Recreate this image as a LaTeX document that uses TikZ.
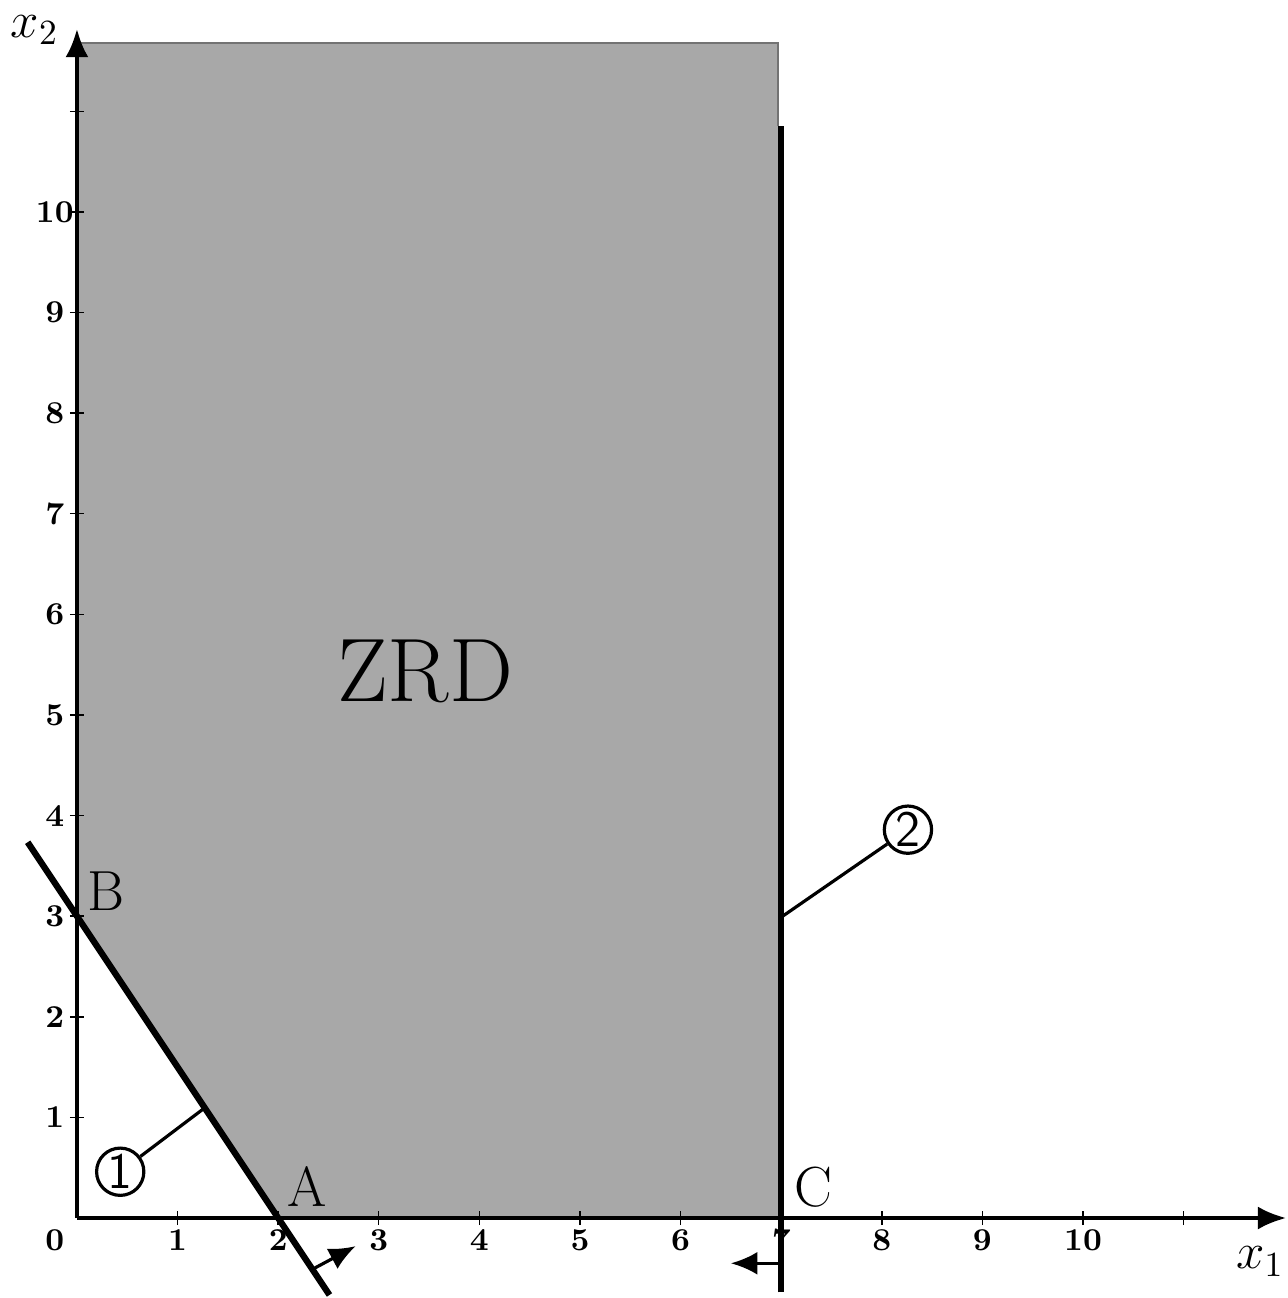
\documentclass[tikz,border=0pt]{standalone}
\usepackage{amsmath,amssymb}
\usepackage{tikz}
\usetikzlibrary{arrows.meta,positioning,calc}

\begin{document}
\begin{tikzpicture}[
    axis/.style={-{Latex[length=8pt,width=6.5pt]}, line width=1.1pt},
    bound/.style={line width=1.8pt},
    lead/.style={line width=0.9pt},
    dirarr/.style={-{Latex[length=7.5pt,width=6.5pt]}, line width=0.9pt},
    ticklab/.style={font=\small\bfseries},
    vertex/.style={font=\fontsize{16}{19}\selectfont},
    num/.style={draw, circle, line width=0.9pt, minimum size=0.47cm, inner sep=0pt, font=\sffamily\Large}
]
\useasboundingbox (-0.765,-0.795) rectangle (12.03,12.107);

% feasible region
\fill[black!34] (0,3) -- (2,0) -- (6.97,0) -- (6.97,11.68) -- (0,11.68) -- cycle;
\draw[black!55, line width=0.4pt] (0,11.68) -- (6.97,11.68) -- (6.97,10.85);

% axes
\draw[axis] (0,0) -- (12.02,0);
\draw[axis] (0,0) -- (0,11.82);
\foreach \i in {1,...,11} {
    \draw[line width=0.4pt] (\i,-0.07) -- (\i,0.07);
    \draw[line width=0.4pt] (-0.07,\i) -- (0.07,\i);
}
\foreach \i in {1,...,10} {
    \node[ticklab] (tx\i) at (\i,-0.22) {\i};
    \node[ticklab] (ty\i) at (-0.22,\i) {\i};
}
\node[ticklab] (t0) at (-0.22,-0.22) {0};
\node[font=\Large, inner sep=1pt] (xlab) at (11.76,-0.43) {$x_1$};
\node[font=\Large, inner sep=1pt] (ylab) at (-0.42,11.81) {$x_2$};

% constraint lines
\draw[bound] (-0.49,3.735) -- (2.51,-0.765);
\draw[bound] (7,-0.74) -- (7,10.85);

% labels
\node[vertex] (A) at (2.29,0.31) {A};
\node[vertex] (B) at (0.29,3.25) {B};
\node[vertex] (C) at (7.32,0.31) {C};
\node[font=\fontsize{25.5}{30}\selectfont] (zrd) at (3.46,5.43) {ZRD};

\node[num] (n1) at (0.43,0.46) {1};
\node[num] (n2) at (8.26,3.86) {2};
\coordinate (p1) at (1.27,1.095);
\coordinate (p2) at (7,2.99);
\draw[lead] (n1) -- (p1);
\draw[lead] (p2) -- (n2);

% directions
\coordinate (d1) at (2.34,-0.51);
\coordinate (d1e) at (2.77,-0.28);
\coordinate (d2) at (7,-0.45);
\coordinate (d2e) at (6.5,-0.45);
\draw[dirarr] (d1) -- (d1e);
\draw[dirarr] (d2) -- (d2e);
\end{tikzpicture}
\end{document}
